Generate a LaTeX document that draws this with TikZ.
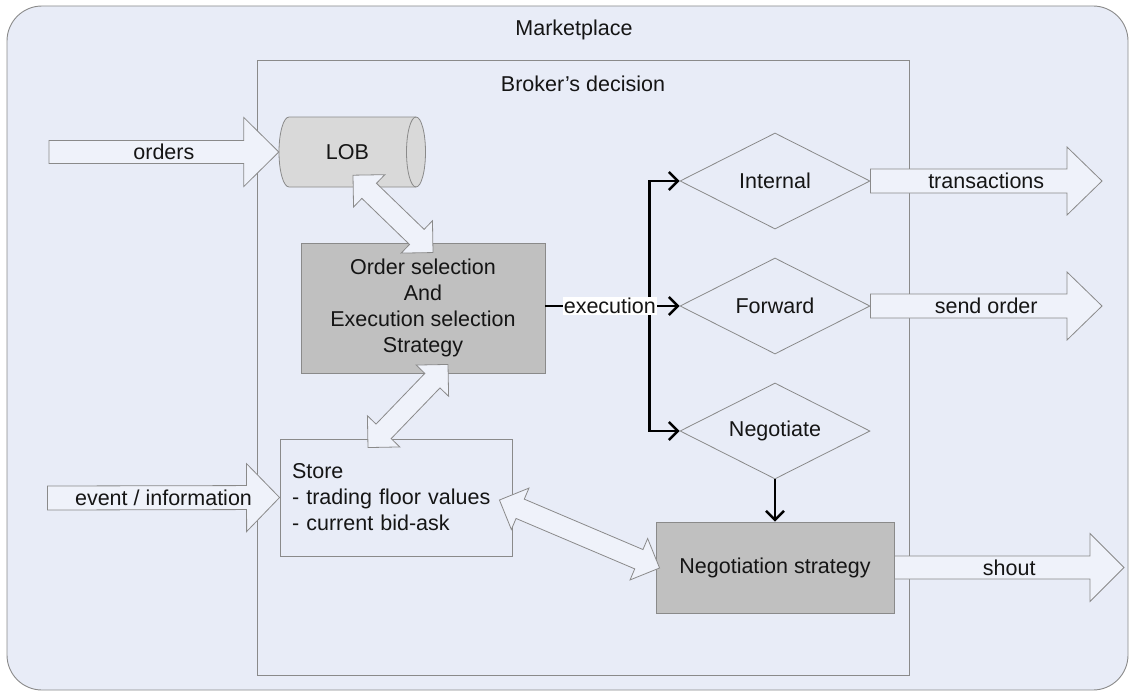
\documentclass[tikz,border=0pt]{standalone}
\usepackage{fontspec}
\setmainfont{Liberation Sans}
\usetikzlibrary{calc,shapes.geometric,arrows.meta}
\definecolor{bgblue}{HTML}{E8ECF7}
\definecolor{edge}{HTML}{8A8A8A}
\definecolor{boxgray}{HTML}{C0C0C0}
\definecolor{lobgray}{HTML}{D9D9D9}
\definecolor{arrfill}{HTML}{EFF2FA}
\definecolor{txt}{HTML}{151515}
% single block arrow: from, to, shaft half, head half, head length, label
\newcommand\sblock[6]{%
  \draw[blk] ($(#1)!#3!90:(#2)$) -- ($(#2)!#5!(#1)!#3!-90:(#1)$) -- ($(#2)!#5!(#1)!#4!-90:(#1)$)
    -- (#2) -- ($(#2)!#5!(#1)!#4!90:(#1)$) -- ($(#2)!#5!(#1)!#3!90:(#1)$) -- ($(#1)!#3!-90:(#2)$) -- cycle;
  \path (#1) -- (#2) node[midway]{#6};}
% double block arrow: A, B, shaft half, head half (= head length)
\newcommand\dblock[4]{%
  \draw[blk] (#1) -- ($(#1)!#4!(#2)!#4!90:(#2)$) -- ($(#1)!#4!(#2)!#3!90:(#2)$)
    -- ($(#2)!#4!(#1)!#3!-90:(#1)$) -- ($(#2)!#4!(#1)!#4!-90:(#1)$) -- (#2)
    -- ($(#2)!#4!(#1)!#4!90:(#1)$) -- ($(#2)!#4!(#1)!#3!90:(#1)$)
    -- ($(#1)!#4!(#2)!#3!-90:(#2)$) -- ($(#1)!#4!(#2)!#4!-90:(#2)$) -- cycle;}
\tikzset{
  every node/.style={font=\fontsize{21.5}{26}\selectfont, text=txt},
  frame/.style={draw=edge, line width=0.9pt, fill=bgblue},
  graybox/.style={draw=edge, line width=0.9pt, fill=boxgray, align=center},
  plainbox/.style={draw=edge, line width=0.9pt},
  decision/.style={diamond, draw=edge, line width=0.8pt, minimum width=190pt, minimum height=96pt, inner sep=0pt, aspect=2},
  blk/.style={draw=edge, line width=0.8pt, fill=arrfill, line join=miter},
  conn/.style={draw=black, line width=2.5pt, -{Straight Barb[length=9pt,width=18pt,line width=2.5pt]}},
}
\begin{document}
\begin{tikzpicture}[x=1pt,y=1pt]
\useasboundingbox (0,0) rectangle (1129,-693);
% Marketplace frame
\node[frame, rounded corners=35pt, minimum width=1121pt, minimum height=684pt] (market) at (567.5,-348) {};
\node (markettitle) at (574,-30) {Marketplace};
% Broker's decision frame
\node[frame, minimum width=652pt, minimum height=615pt] (broker) at (583,-367.5) {};
\node (brokertitle) at (583,-84) {Broker’s decision};
% LOB cylinder
\coordinate (lobc) at (347.5,-152);
\draw[draw=edge, line width=0.8pt, fill=lobgray]
  ($(lobc)+(-58.5,35)$) -- ($(lobc)+(68.5,35)$)
  arc[start angle=90, end angle=-90, x radius=9.5, y radius=35]
  -- ($(lobc)+(-58.5,-35)$)
  arc[start angle=270, end angle=90, x radius=10, y radius=35] -- cycle;
\draw[draw=edge, line width=0.8pt] ($(lobc)+(68.5,35)$)
  arc[start angle=90, end angle=270, x radius=9.5, y radius=35];
\node[minimum width=137pt, minimum height=70pt, inner sep=0pt] (lob) at (lobc) {LOB};
% boxes
\node[graybox, minimum width=244pt, minimum height=130pt] (order) at (423,-308)
  {Order selection\\And\\Execution selection\\Strategy};
\node[plainbox, text width=208pt, inner xsep=12pt, minimum height=117pt, align=left] (store) at (396,-497.5)
  {Store\\- trading floor values\\- current bid-ask};
\node[graybox, minimum width=238pt, minimum height=91pt] (negstrat) at (775,-567.5) {Negotiation strategy};
% decisions
\node[decision] (internal) at (775,-181) {Internal};
\node[decision] (forward) at (775,-306) {Forward};
\node[decision] (negotiate) at (775,-431) {Negotiate};
% free ends
\coordinate (ordersin) at (49,-152);
\coordinate (eventin) at (47.5,-498);
\coordinate (txout) at (1102,-181);
\coordinate (sendout) at (1102,-306);
\coordinate (shoutout) at (1124,-567.5);
% single block arrows
\sblock{ordersin}{lob.west}{11.5pt}{34.5pt}{35pt}{orders}
\sblock{eventin}{store.west}{12pt}{34pt}{33pt}{event / information}
\sblock{internal.east}{txout}{12pt}{34pt}{35pt}{transactions}
\sblock{forward.east}{sendout}{12pt}{34pt}{35pt}{send order}
\sblock{negstrat.east}{shoutout}{11.5pt}{34pt}{34pt}{shout}
% double block arrows
\coordinate (lobtip) at ($(lob.south)+(5.5,12)$);
\coordinate (ordtipA) at ($(order.north)+(10,-10)$);
\coordinate (ordtipB) at ($(order.south)+(25,9)$);
\coordinate (storetipA) at ($(store.north)+(-28,-9)$);
\coordinate (storetipB) at ($(store.east)+(-13,-2.5)$);
\coordinate (negtip) at ($(negstrat.west)+(4,-0.5)$);
\dblock{lobtip}{ordtipA}{10.5pt}{22.5pt}
\dblock{ordtipB}{storetipA}{10.5pt}{22.5pt}
\dblock{storetipB}{negtip}{10.5pt}{22.5pt}
% execution connectors
\coordinate (split) at ($(forward.west)+(-30,0)$);
\draw[conn] (split) |- (internal.west);
\draw[conn] (split) |- (negotiate.west);
\draw[conn] (order.east |- forward.west) -- (forward.west)
  node[pos=0.48, fill=white, inner xsep=1pt, inner ysep=1.5pt] {execution};
\draw[conn] (negotiate.south) -- (negstrat.north);
\end{tikzpicture}
\end{document}
